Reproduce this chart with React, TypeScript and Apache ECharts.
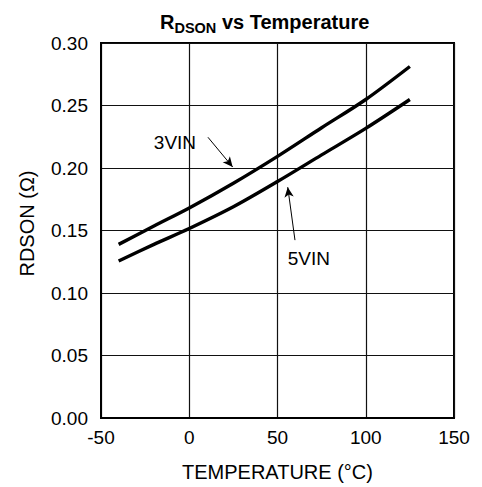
import React, { useEffect, useRef } from "react";
import * as echarts from "echarts";

const temps = [-40, -20, 0, 25, 50, 75, 100, 125];
const vin3 = [0.1389, 0.1536, 0.168, 0.1878, 0.2093, 0.2322, 0.2548, 0.2812];
const vin5 = [0.1256, 0.1389, 0.1516, 0.169, 0.1892, 0.2105, 0.2317, 0.2548];
const xTicks = [-50, 0, 50, 100, 150];
const yTicks = [0, 0.05, 0.1, 0.15, 0.2, 0.25, 0.3];

const FONT = "'Liberation Sans', Arial, Helvetica, sans-serif";

export default function App() {
  const ref = useRef<HTMLDivElement>(null);
  useEffect(() => {
    document.body.style.margin = "0";
    const chart = echarts.init(ref.current!, null, { renderer: "svg" });
    const pts = (ys: number[]) => temps.map((t, i) => [t, ys[i]]);
    chart.setOption({
      animation: false,
      backgroundColor: "#fff",
      textStyle: { fontFamily: FONT, color: "#000" },
      title: {
        left: 155,
        top: 4,
        text: "{r|R}{s|DSON}{t| vs Temperature}",
        textStyle: {
          rich: {
            r: { fontFamily: FONT, fontSize: 20, fontWeight: "bold", color: "#000", lineHeight: 26, verticalAlign: "middle" },
            s: { fontFamily: FONT, fontSize: 14.5, fontWeight: "bold", color: "#000", lineHeight: 26, verticalAlign: "bottom" },
            t: { fontFamily: FONT, fontSize: 20, fontWeight: "bold", color: "#000", lineHeight: 26, verticalAlign: "middle" },
          },
        },
      },
      grid: { left: 101, right: 28, top: 43, bottom: 66, show: true, borderColor: "#000", borderWidth: 2, backgroundColor: "transparent" },
      xAxis: {
        type: "value",
        min: xTicks[0],
        max: xTicks[xTicks.length - 1],
        interval: 50,
        name: "TEMPERATURE (°C)",
        nameLocation: "middle",
        nameGap: 44,
        nameTextStyle: { fontFamily: FONT, fontSize: 20, color: "#000" },
        axisLine: { show: true, onZero: false, lineStyle: { color: "#000", width: 2 } },
        axisTick: { show: false },
        axisLabel: { fontFamily: FONT, fontSize: 19, color: "#000", margin: 10 },
        splitLine: { show: true, lineStyle: { color: "#111", width: 1.2 } },
      },
      yAxis: {
        type: "value",
        min: yTicks[0],
        max: yTicks[yTicks.length - 1],
        interval: 0.05,
        name: "RDSON (Ω)",
        nameLocation: "middle",
        nameGap: 64,
        nameTextStyle: { fontFamily: FONT, fontSize: 20, color: "#000", padding: [0, 0, 0, 14] },
        axisLine: { show: true, onZero: false, lineStyle: { color: "#000", width: 2 } },
        axisTick: { show: false },
        axisLabel: { fontFamily: FONT, fontSize: 19, color: "#000", margin: 13, formatter: (v: number) => v.toFixed(2) },
        splitLine: { show: true, lineStyle: { color: "#111", width: 1.2 } },
      },
      series: [
        {
          name: "3VIN",
          type: "line",
          data: pts(vin3),
          smooth: 0.3,
          showSymbol: false,
          lineStyle: { color: "#000", width: 3.4 },
          markLine: {
            silent: true,
            symbol: ["none", "arrow"],
            symbolSize: [7, 10],
            lineStyle: { color: "#000", width: 1, type: "solid" },
            label: { show: false },
            data: [[{ coord: [10.6, 0.2246] }, { coord: [24.6, 0.2008] }]],
          },
          markPoint: {
            silent: true,
            symbol: "circle",
            symbolSize: 0,
            label: { show: true, formatter: "3VIN", fontFamily: FONT, fontSize: 19, color: "#000", position: "inside" },
            data: [{ coord: [-8.1, 0.2206] }],
          },
        },
        {
          name: "5VIN",
          type: "line",
          data: pts(vin5),
          smooth: 0.3,
          showSymbol: false,
          lineStyle: { color: "#000", width: 3.4 },
          markLine: {
            silent: true,
            symbol: ["none", "arrow"],
            symbolSize: [7, 10],
            lineStyle: { color: "#000", width: 1, type: "solid" },
            label: { show: false },
            data: [[{ coord: [59.9, 0.1423] }, { coord: [55.8, 0.1847] }]],
          },
          markPoint: {
            silent: true,
            symbol: "circle",
            symbolSize: 0,
            label: { show: true, formatter: "5VIN", fontFamily: FONT, fontSize: 19, color: "#000", position: "inside" },
            data: [{ coord: [67.8, 0.1278] }],
          },
        },
      ],
    });
    return () => chart.dispose();
  }, []);
  return <div ref={ref} style={{ width: 482, height: 487 }} />;
}
